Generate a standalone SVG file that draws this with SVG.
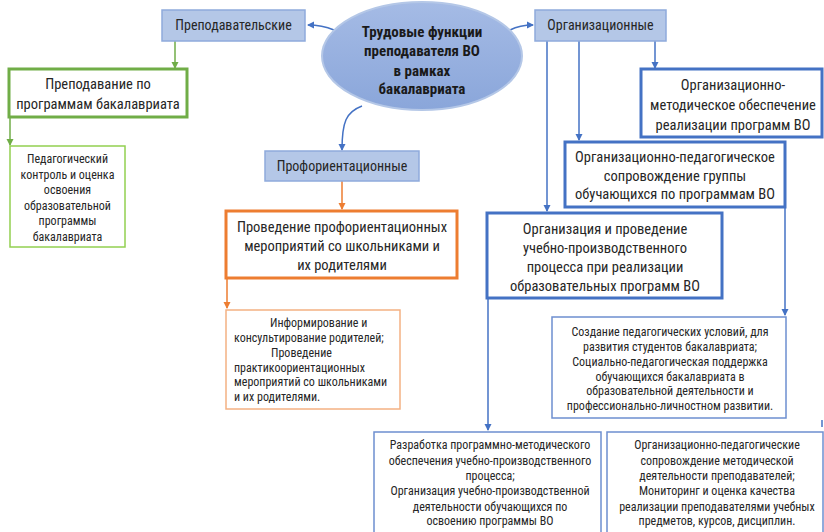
<svg xmlns="http://www.w3.org/2000/svg" width="824" height="532" viewBox="0 0 824 532">
<defs>
<style>
text{font-family:"Liberation Sans Narrow","Roboto Condensed","DejaVu Sans Condensed","Liberation Sans",sans-serif;fill:#262626;text-anchor:middle}
.cat{fill:#b4c7e7;stroke:#8faadc;stroke-width:1.5}
.cat-t{font-size:14px}
.big{font-size:14.5px}
.sm{font-size:12px}
.title{font-size:15px;font-weight:bold;fill:#1a1a1a}
.bthick{fill:#fff;stroke:#4472c4;stroke-width:3}
.bthin{fill:#fff;stroke:#6d8fd0;stroke-width:1.5}
.gthick{fill:#fff;stroke:#70ad47;stroke-width:3}
.gthin{fill:#fff;stroke:#92d050;stroke-width:1.5}
.othick{fill:#fff;stroke:#ed7d31;stroke-width:3}
.othin{fill:#fff;stroke:#f4b183;stroke-width:1.5}
.cb{fill:none;stroke:#4472c4;stroke-width:1.5}
.cg{fill:none;stroke:#70ad47;stroke-width:1.5}
.co{fill:none;stroke:#ed7d31;stroke-width:1.5}
.l{text-anchor:start}
</style>
<marker id="ab" markerWidth="8" markerHeight="8" refX="6" refY="4" orient="auto" markerUnits="userSpaceOnUse"><path d="M0,0.5 L7,4 L0,7.5 Z" fill="#4472c4"/></marker>
<marker id="ag" markerWidth="8" markerHeight="8" refX="6" refY="4" orient="auto" markerUnits="userSpaceOnUse"><path d="M0,0.5 L7,4 L0,7.5 Z" fill="#70ad47"/></marker>
<marker id="ao" markerWidth="8" markerHeight="8" refX="6" refY="4" orient="auto" markerUnits="userSpaceOnUse"><path d="M0,0.5 L7,4 L0,7.5 Z" fill="#ed7d31"/></marker>
<linearGradient id="eg" x1="0" y1="0" x2="0" y2="1"><stop offset="0" stop-color="#a5bbe5"/><stop offset="1" stop-color="#8aa6da"/></linearGradient>
</defs>
<rect width="824" height="532" fill="#fff"/>

<g id="connectors">
<path class="cb" d="M334,30 Q322,25 308,25" marker-end="url(#ab)"/>
<path class="cb" d="M510,30 Q520,25 533,25" marker-end="url(#ab)"/>
<path class="cb" d="M362,106 C346,112 342,122 342,150" marker-end="url(#ab)"/>
<path class="cg" d="M175,41 V68" marker-end="url(#ag)"/>
<path class="cg" d="M10,117 V145" marker-end="url(#ag)"/>
<path class="co" d="M342,181 V209" marker-end="url(#ao)"/>
<path class="co" d="M227,278 V308" marker-end="url(#ao)"/>
<path class="cb" d="M655,41 V68" marker-end="url(#ab)"/>
<path class="cb" d="M579,41 V140" marker-end="url(#ab)"/>
<path class="cb" d="M547,41 V211" marker-end="url(#ab)"/>
<path class="cb" d="M785,207 V315" marker-end="url(#ab)"/>
<path class="cb" d="M488,298 V430" marker-end="url(#ab)"/>
<path class="cb" d="M822,420 V427"/>
</g>

<g id="center">
<ellipse cx="422" cy="56" rx="100" ry="54" fill="url(#eg)" stroke="#b4c7e7" stroke-width="2"/>
<text class="title" x="422" y="37">Трудовые функции</text>
<text class="title" x="422" y="56">преподавателя ВО</text>
<text class="title" x="422" y="76">в рамках</text>
<text class="title" x="422" y="94">бакалавриата</text>
</g>

<g id="cat-prep">
<rect class="cat" x="162" y="10" width="143" height="31"/>
<text class="cat-t" x="233.5" y="30">Преподавательские</text>
</g>

<g id="cat-org">
<rect class="cat" x="535" y="10" width="131" height="31"/>
<text class="cat-t" x="600.5" y="30">Организационные</text>
</g>

<g id="cat-prof">
<rect class="cat" x="265" y="151" width="154" height="30"/>
<text class="cat-t" x="342" y="171">Профориентационные</text>
</g>

<g id="teach">
<rect class="gthick" x="9" y="69" width="178" height="48"/>
<text class="big" x="98" y="89">Преподавание по</text>
<text class="big" x="98" y="109">программам бакалавриата</text>
</g>

<g id="control">
<rect class="gthin" x="10" y="146" width="115" height="101"/>
<text class="sm" x="67.5" y="163">Педагогический</text>
<text class="sm" x="67.5" y="178.5">контроль и оценка</text>
<text class="sm" x="67.5" y="194">освоения</text>
<text class="sm" x="67.5" y="209.5">образовательной</text>
<text class="sm" x="67.5" y="225">программы</text>
<text class="sm" x="67.5" y="240.5">бакалавриата</text>
</g>

<g id="prof-events">
<rect class="othick" x="226" y="211" width="231" height="67"/>
<text class="big" x="342" y="232">Проведение профориентационных</text>
<text class="big" x="342" y="251">мероприятий со школьниками и</text>
<text class="big" x="342" y="270">их родителями</text>
</g>

<g id="inform">
<rect class="othin" x="226" y="310" width="174" height="99"/>
<text class="sm l" x="270" y="327">Информирование и</text>
<text class="sm l" x="234" y="341.5">консультирование родителей;</text>
<text class="sm l" x="271" y="357">Проведение</text>
<text class="sm l" x="234" y="371.5">практикоориентационных</text>
<text class="sm l" x="234" y="386">мероприятий со школьниками</text>
<text class="sm l" x="234" y="401">и их родителями.</text>
</g>

<g id="org-method">
<rect class="bthick" x="641" y="69" width="181" height="68"/>
<text class="big" x="733" y="90">Организационно-</text>
<text class="big" x="733" y="110">методическое обеспечение</text>
<text class="big" x="733" y="130">реализации программ ВО</text>
</g>

<g id="org-ped">
<rect class="bthick" x="565" y="142" width="220" height="65"/>
<text class="big" x="675" y="162">Организационно-педагогическое</text>
<text class="big" x="675" y="181">сопровождение группы</text>
<text class="big" x="675" y="199">обучающихся по программам ВО</text>
</g>

<g id="org-process">
<rect class="bthick" x="487" y="213" width="235" height="85"/>
<text class="big" x="605" y="234">Организация и проведение</text>
<text class="big" x="605" y="253">учебно-производственного</text>
<text class="big" x="605" y="272">процесса при реализации</text>
<text class="big" x="605" y="291">образовательных программ ВО</text>
</g>

<g id="conditions">
<rect class="bthin" x="552" y="317" width="234" height="101"/>
<text class="sm" x="670" y="336">Создание педагогических условий, для</text>
<text class="sm" x="670" y="351">развития студентов бакалавриата;</text>
<text class="sm" x="670" y="366">Социально-педагогическая поддержка</text>
<text class="sm" x="670" y="380.5">обучающихся бакалавриата в</text>
<text class="sm" x="670" y="395">образовательной деятельности и</text>
<text class="sm" x="670" y="410">профессионально-личностном развитии.</text>
</g>

<g id="development">
<rect class="bthin" x="374" y="432" width="227" height="110"/>
<text class="sm" x="490" y="449">Разработка программно-методического</text>
<text class="sm" x="490" y="465">обеспечения учебно-производственного</text>
<text class="sm" x="490" y="479.5">процесса;</text>
<text class="sm" x="490" y="495">Организация учебно-производственной</text>
<text class="sm" x="490" y="511">деятельности обучающихся по</text>
<text class="sm" x="490" y="525">освоению программы ВО</text>
</g>

<g id="monitoring">
<rect class="bthin" x="607" y="432" width="216" height="110"/>
<text class="sm" x="717" y="449">Организационно-педагогические</text>
<text class="sm" x="717" y="465">сопровождение методической</text>
<text class="sm" x="717" y="479.5">деятельности преподавателей;</text>
<text class="sm" x="717" y="495">Мониторинг и оценка качества</text>
<text class="sm" x="717" y="511">реализации преподавателями учебных</text>
<text class="sm" x="717" y="525">предметов, курсов, дисциплин.</text>
</g>
</svg>
